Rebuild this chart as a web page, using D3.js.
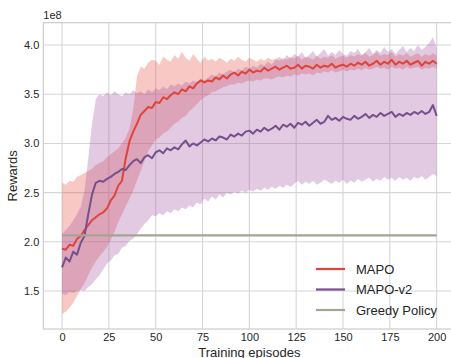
<!DOCTYPE html>
<html>
<head>
<meta charset="utf-8">
<script src="https://cdn.jsdelivr.net/npm/d3@7"></script>
<style>
  body { margin: 0; background: #fff; }
  text { font-family: "Liberation Sans", Arial, sans-serif; fill: #262626; }
</style>
</head>
<body>
<div id="chart"></div>
<script>
// Episodes sampled every 2 steps (0..200)
const episodes = d3.range(0, 201, 2);

// Rewards in units of 1e8
const mapoMean = [1.93,1.92,1.97,1.96,2.03,2.06,2.12,2.17,2.22,2.25,2.28,2.30,2.34,2.42,2.47,2.57,2.62,2.85,3.02,3.12,
  3.20,3.29,3.33,3.37,3.36,3.42,3.41,3.47,3.45,3.49,3.52,3.50,3.55,3.53,3.58,3.56,3.61,3.64,3.62,3.64,
  3.63,3.67,3.65,3.69,3.66,3.70,3.72,3.69,3.73,3.71,3.75,3.72,3.74,3.73,3.77,3.74,3.76,3.78,3.75,3.77,
  3.79,3.76,3.77,3.80,3.76,3.79,3.78,3.76,3.80,3.77,3.79,3.78,3.81,3.77,3.79,3.80,3.78,3.81,3.79,3.82,
  3.80,3.83,3.79,3.81,3.84,3.80,3.83,3.81,3.85,3.80,3.83,3.81,3.84,3.80,3.82,3.84,3.79,3.83,3.81,3.84,3.81];
const mapoUpper = [2.60,2.58,2.62,2.61,2.66,2.68,2.70,2.72,2.74,2.78,2.80,2.82,2.86,2.89,2.92,2.95,3.00,3.06,3.15,3.35,
  3.68,3.78,3.76,3.82,3.85,3.84,3.80,3.88,3.85,3.83,3.90,3.86,3.93,3.87,3.84,3.91,3.86,3.82,3.88,3.84,
  3.86,3.83,3.87,3.85,3.82,3.86,3.84,3.88,3.85,3.83,3.87,3.85,3.83,3.86,3.84,3.87,3.85,3.86,3.84,3.87,
  3.85,3.88,3.86,3.89,3.85,3.88,3.87,3.85,3.89,3.86,3.88,3.87,3.90,3.86,3.88,3.89,3.87,3.90,3.88,3.91,
  3.89,3.92,3.88,3.90,3.93,3.89,3.91,3.90,3.93,3.88,3.91,3.89,3.92,3.88,3.90,3.92,3.88,3.91,3.89,3.92,3.89];
const mapoLower = [1.27,1.29,1.33,1.38,1.45,1.52,1.58,1.66,1.74,1.80,1.85,1.90,1.95,2.02,2.10,2.20,2.28,2.36,2.44,2.52,
  2.62,2.72,2.82,2.92,2.98,3.04,3.06,3.10,3.12,3.16,3.20,3.22,3.26,3.28,3.33,3.36,3.40,3.44,3.47,3.49,
  3.52,3.53,3.55,3.57,3.58,3.60,3.60,3.62,3.61,3.63,3.64,3.63,3.65,3.64,3.66,3.66,3.65,3.67,3.68,3.67,
  3.69,3.68,3.70,3.69,3.71,3.70,3.71,3.69,3.72,3.71,3.73,3.72,3.74,3.72,3.73,3.75,3.73,3.75,3.74,3.76,
  3.74,3.77,3.75,3.76,3.78,3.76,3.77,3.75,3.78,3.76,3.77,3.75,3.78,3.76,3.77,3.78,3.75,3.77,3.76,3.78,3.76];

const v2Mean = [1.74,1.84,1.80,1.90,1.87,1.99,2.06,2.28,2.48,2.60,2.62,2.61,2.64,2.66,2.69,2.71,2.74,2.73,2.78,2.82,
  2.84,2.80,2.86,2.88,2.85,2.91,2.93,2.90,2.95,2.93,2.96,2.94,2.99,3.03,2.97,3.00,2.98,3.01,3.04,3.02,
  3.05,3.03,3.07,3.06,3.04,3.09,3.07,3.10,3.08,3.12,3.13,3.10,3.14,3.12,3.16,3.13,3.15,3.18,3.14,3.19,
  3.17,3.20,3.16,3.21,3.19,3.22,3.18,3.21,3.24,3.20,3.22,3.28,3.24,3.26,3.23,3.27,3.25,3.24,3.28,3.25,
  3.27,3.30,3.26,3.29,3.27,3.31,3.28,3.30,3.32,3.27,3.30,3.28,3.31,3.29,3.32,3.30,3.33,3.30,3.32,3.39,3.28];
const v2Upper = [2.08,2.12,2.16,2.22,2.28,2.36,2.52,2.85,3.20,3.45,3.50,3.48,3.52,3.49,3.53,3.50,3.48,3.52,3.50,3.54,
  3.51,3.53,3.50,3.55,3.52,3.56,3.54,3.58,3.55,3.60,3.58,3.61,3.59,3.63,3.61,3.64,3.62,3.66,3.64,3.67,
  3.70,3.68,3.72,3.70,3.73,3.75,3.72,3.76,3.74,3.78,3.76,3.79,3.77,3.81,3.79,3.83,3.80,3.85,3.88,3.84,
  3.90,3.86,3.91,3.88,3.93,3.87,3.90,3.94,3.88,3.92,3.96,3.89,3.93,3.90,3.95,3.91,3.89,3.94,3.92,3.96,
  3.90,3.93,3.97,3.91,3.95,3.92,3.98,3.93,3.96,3.91,3.95,3.99,3.93,3.97,3.94,4.00,3.95,3.98,4.02,4.08,3.97];
const v2Lower = [1.47,1.46,1.49,1.48,1.50,1.51,1.50,1.54,1.57,1.62,1.66,1.72,1.78,1.81,1.86,1.88,1.94,1.96,2.01,2.03,
  2.08,2.13,2.18,2.22,2.27,2.26,2.29,2.27,2.31,2.29,2.33,2.31,2.35,2.33,2.37,2.35,2.40,2.38,2.44,2.41,
  2.46,2.43,2.48,2.45,2.50,2.48,2.51,2.49,2.52,2.50,2.53,2.51,2.54,2.52,2.55,2.53,2.56,2.54,2.57,2.55,
  2.58,2.56,2.59,2.62,2.58,2.61,2.59,2.62,2.58,2.60,2.63,2.61,2.59,2.62,2.60,2.63,2.59,2.62,2.60,2.64,
  2.61,2.63,2.65,2.61,2.64,2.62,2.66,2.63,2.65,2.62,2.66,2.63,2.65,2.62,2.66,2.64,2.67,2.63,2.66,2.69,2.67];

const greedyValue = 2.065;

const yTicks = [1.5, 2.0, 2.5, 3.0, 3.5, 4.0];
const xTicks = [0, 25, 50, 75, 100, 125, 150, 175, 200];
const legendNames = ["MAPO", "MAPO-v2", "Greedy Policy"];

// Layout
const W = 451, H = 358;
const plot = {left: 43.3, top: 22.7, right: 455.4, bottom: 329};

const svg = d3.select("#chart")
    .append("svg")
    .attr("width", W)
    .attr("height", H);

const x = d3.scaleLinear().domain([-10, 210]).range([plot.left, plot.right]);
const y = d3.scaleLinear().domain([1.114, 4.227]).range([plot.bottom, plot.top]);

// Grid
const grid = svg.append("g");
grid.selectAll(".gx")
    .data(xTicks)
    .enter().append("line")
    .attr("x1", d => x(d)).attr("x2", d => x(d))
    .attr("y1", plot.top).attr("y2", plot.bottom)
    .attr("stroke", "#d6d6d6").attr("stroke-width", 1.1);
grid.selectAll(".gy")
    .data(yTicks)
    .enter().append("line")
    .attr("x1", plot.left).attr("x2", plot.right)
    .attr("y1", d => y(d)).attr("y2", d => y(d))
    .attr("stroke", "#d6d6d6").attr("stroke-width", 1.1);

// Spines
svg.append("rect")
    .attr("x", plot.left).attr("y", plot.top)
    .attr("width", plot.right - plot.left)
    .attr("height", plot.bottom - plot.top)
    .attr("fill", "none")
    .attr("stroke", "#cccccc")
    .attr("stroke-width", 1.2);

// Bands
function band(lo, hi) {
    return d3.area()
        .x((d, i) => x(episodes[i]))
        .y0((d, i) => y(lo[i]))
        .y1((d, i) => y(hi[i]))(episodes);
}
svg.append("path")
    .attr("d", band(mapoLower, mapoUpper))
    .attr("fill", "#e74c3c")
    .attr("fill-opacity", 0.3);
svg.append("path")
    .attr("d", band(v2Lower, v2Upper))
    .attr("fill", "#a050a0")
    .attr("fill-opacity", 0.3);

// Lines
const line = d3.line()
    .x((d, i) => x(episodes[i]))
    .y(d => y(d));

svg.append("path")
    .attr("d", line(mapoMean))
    .attr("fill", "none")
    .attr("stroke", "#e0433a")
    .attr("stroke-width", 2)
    .attr("stroke-linejoin", "round");
svg.append("path")
    .attr("d", line(v2Mean))
    .attr("fill", "none")
    .attr("stroke", "#76508a")
    .attr("stroke-width", 2)
    .attr("stroke-linejoin", "round");
svg.append("line")
    .attr("x1", x(episodes[0]))
    .attr("x2", x(episodes[episodes.length - 1]))
    .attr("y1", y(greedyValue))
    .attr("y2", y(greedyValue))
    .attr("stroke", "#a4a493")
    .attr("stroke-width", 2.2);

// Axes (no tick marks, seaborn whitegrid look)
const xAxis = svg.append("g")
    .attr("transform", `translate(0,${plot.bottom})`)
    .call(d3.axisBottom(x).tickValues(xTicks).tickSize(0).tickPadding(4));
const yAxis = svg.append("g")
    .attr("transform", `translate(${plot.left},0)`)
    .call(d3.axisLeft(y).tickValues(yTicks).tickFormat(d3.format(".1f")).tickSize(0).tickPadding(4));
[xAxis, yAxis].forEach(a => {
    a.select(".domain").remove();
    a.selectAll("text")
        .style("font-family", "'Liberation Sans', Arial, sans-serif")
        .style("font-size", "11px")
        .attr("fill", "#262626");
});

// Offset label
svg.append("text")
    .attr("x", plot.left)
    .attr("y", 19)
    .style("font-size", "11px")
    .text("1e8");

// Axis labels
svg.append("text")
    .attr("transform", `translate(17,${(plot.top + plot.bottom) / 2}) rotate(-90)`)
    .attr("text-anchor", "middle")
    .style("font-size", "13px")
    .text("Rewards");
svg.append("text")
    .attr("x", (plot.left + plot.right) / 2)
    .attr("y", 357)
    .attr("text-anchor", "middle")
    .style("font-size", "13px")
    .text("Training episodes");

// Legend
const legendColors = ["#e0433a", "#76508a", "#a4a493"];
const legend = svg.append("g").attr("transform", "translate(316,269)");
legendNames.forEach((name, i) => {
    const g = legend.append("g").attr("transform", `translate(0,${i * 20.5})`);
    g.append("line")
        .attr("x1", 0).attr("x2", 29)
        .attr("stroke", legendColors[i])
        .attr("stroke-width", 2.2);
    g.append("text")
        .attr("x", 40)
        .attr("y", 4.5)
        .style("font-size", "13px")
        .text(name);
});
</script>
</body>
</html>
